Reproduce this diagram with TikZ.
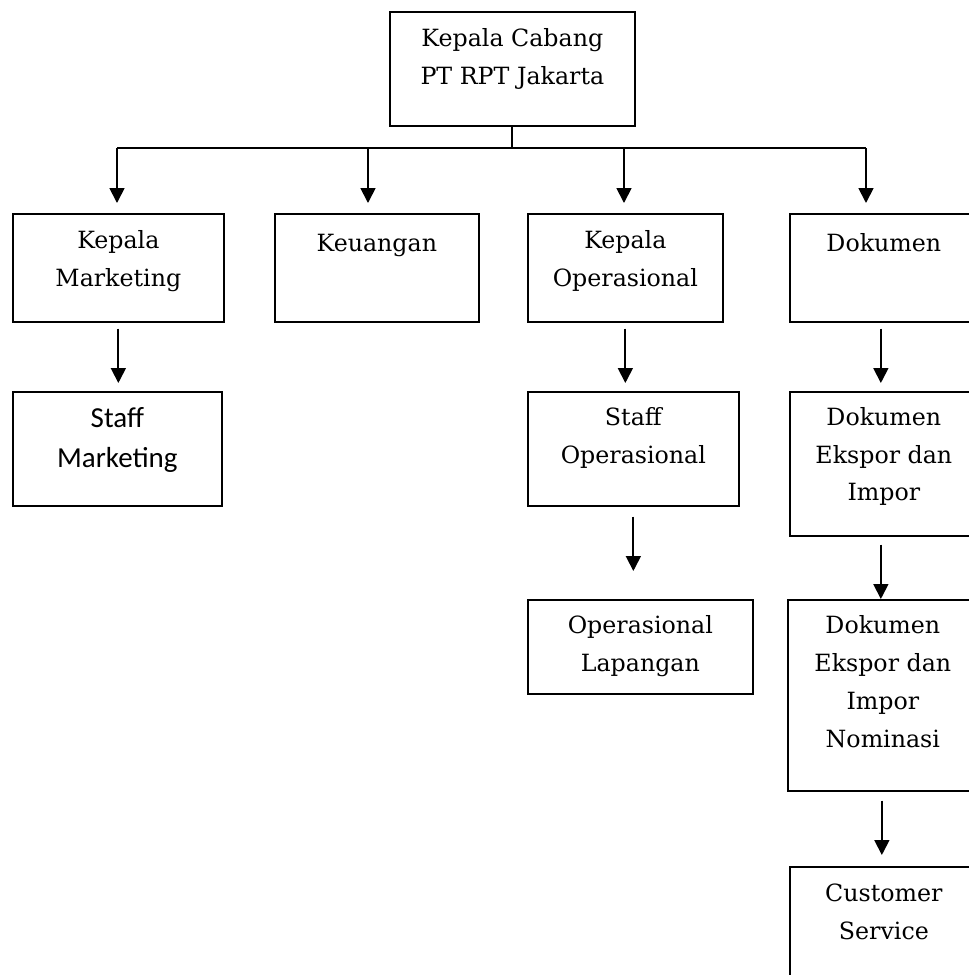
\documentclass[tikz,border=0pt]{standalone}
\usepackage{fontspec}
\setmainfont{DejaVu Serif}
\newfontfamily\calibri{Carlito}
\usetikzlibrary{arrows.meta,positioning}

\begin{document}
\begin{tikzpicture}[x=0.02cm,y=-0.02cm,
  kotak/.style={draw,line width=1pt,inner sep=0,anchor=north west},
  teks/.style={inner sep=0,align=center,font=\fontsize{13.5}{21.5}\selectfont,execute at begin node=\strut},
  teksb/.style={inner sep=0,align=center,font=\calibri\fontsize{16.5}{22.7}\selectfont,execute at begin node=\strut},
  panah/.style={-{Triangle[width=8.5pt,length=8.5pt]},line width=1pt}]
\useasboundingbox (0,0) rectangle (969,975);

% kotak
\node[kotak,minimum width=4.9cm,minimum height=2.28cm] (kc) at (389,11) {};
\node[kotak,minimum width=4.22cm,minimum height=2.16cm] (km) at (12,213) {};
\node[kotak,minimum width=4.08cm,minimum height=2.16cm] (keu) at (274,213) {};
\node[kotak,minimum width=3.9cm,minimum height=2.16cm] (kop) at (527,213) {};
\node[kotak,minimum width=3.76cm,minimum height=2.16cm] (dok) at (789,213) {};
\node[kotak,minimum width=4.18cm,minimum height=2.28cm] (sm) at (12,391) {};
\node[kotak,minimum width=4.22cm,minimum height=2.28cm] (so) at (527,391) {};
\node[kotak,minimum width=3.76cm,minimum height=2.88cm] (dei) at (789,391) {};
\node[kotak,minimum width=4.5cm,minimum height=1.88cm] (ol) at (527,599) {};
\node[kotak,minimum width=3.8cm,minimum height=3.82cm] (dein) at (787,599) {};
\node[kotak,minimum width=3.76cm,minimum height=2.8cm] (cs) at (789,866) {};

% teks
\node[teks,below=0.34cm of kc.north] (tkc) {Kepala Cabang\\PT RPT Jakarta};
\node[teks,below=0.34cm of km.north] (tkm) {Kepala\\Marketing};
\node[teks,below=0.23cm of keu.north] (tkeu) {Keuangan};
\node[teks,below=0.34cm of kop.north] (tkop) {Kepala\\Operasional};
\node[teks,below=0.23cm of dok.north] (tdok) {Dokumen};
\node[teksb,below=0.33cm of sm.north] (tsm) {Staff\\Marketing};
\node[teks,below=0.32cm of so.north] (tso) {Staff\\Operasional};
\node[teks,below=0.32cm of dei.north] (tdei) {Dokumen\\Ekspor dan\\Impor};
\node[teks,below=0.33cm of ol.north] (tol) {Operasional\\Lapangan};
\node[teks,below=0.33cm of dein.north] (tdein) {Dokumen\\Ekspor dan\\Impor\\Nominasi};
\node[teks,below=0.35cm of cs.north] (tcs) {Customer\\Service};

% garis
\coordinate (b1) at (117,148);
\coordinate (b2) at (368,148);
\coordinate (b3) at (624,148);
\coordinate (b4) at (866,148);
\draw[line width=1pt] (kc.south) -- (kc.south |- b1);
\draw[line width=1pt] (b1) -- (b4);
\foreach \b/\k in {b1/km,b2/keu,b3/kop,b4/dok}{
  \draw[panah,shorten >=0.2cm] (\b) -- (\b |- \k.north);
}
\draw[panah,shorten <=0.12cm,shorten >=0.16cm] (km.south) -- (km.south |- sm.north);
\draw[panah,shorten <=0.12cm,shorten >=0.16cm] (kop.south) -- (kop.south |- so.north);
\draw[panah,shorten <=0.2cm,shorten >=0.56cm] (so.south) -- (so.south |- ol.north);
\draw[panah,shorten <=0.12cm,shorten >=0.16cm] ([xshift=-0.06cm]dok.south) -- ([xshift=-0.06cm]dok.south |- dei.north);
\draw[panah,shorten <=0.16cm] ([xshift=-0.06cm]dei.south) -- ([xshift=-0.06cm]dei.south |- dein.north);
\draw[panah,shorten <=0.18cm,shorten >=0.22cm] ([xshift=-0.02cm]dein.south) -- ([xshift=-0.02cm]dein.south |- cs.north);
\end{tikzpicture}
\end{document}
